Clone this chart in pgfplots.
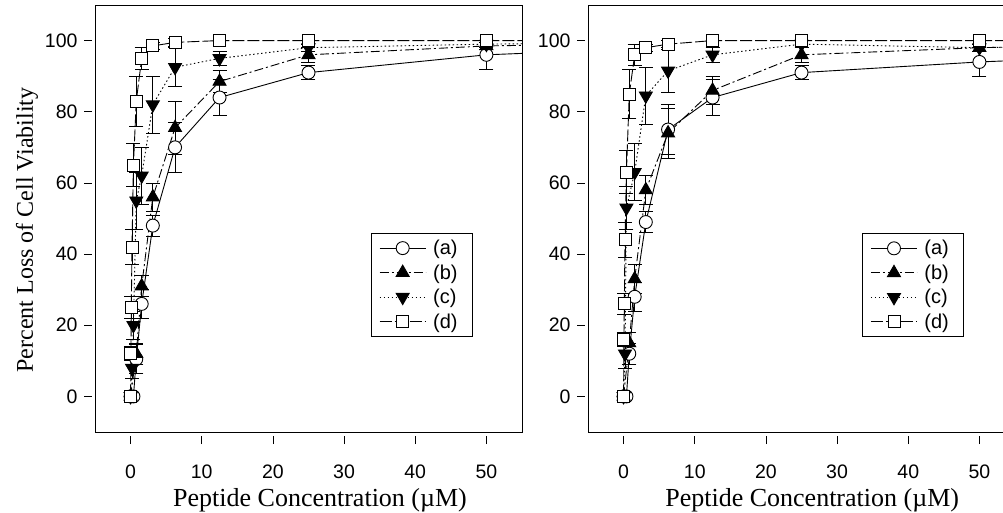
\documentclass[border=0pt]{standalone}
\usepackage{fontspec}
\setmainfont{Liberation Serif}
\newfontfamily\arialfont{Liberation Sans}
\usepackage{pgfplots}
\usepackage{pgfplotstable}
\pgfplotsset{compat=1.18}

% Left panel data
\pgfplotstableread{
x y e
0 0 0
0.4 0 0
0.8 10.5 4
1.56 26 4
3.125 48 3
6.25 70 7
12.5 84 5
25 91 2
50 96 4
100 100 0
}\La
\pgfplotstableread{
x y e
0 0 0
0.8 12 3
1.56 31 3
3.125 56 4
6.25 75.5 7.5
12.5 88.5 3
25 96 2
50 98.5 1
100 100 0
}\Lb
\pgfplotstableread{
x y e
0 0 0
0.2 8 3
0.4 20 4
0.8 55 8
1.56 62 8
3.125 82 8
6.25 92.5 5.5
12.5 95 2
25 98 1
50 99 1
100 100 0
}\Lc
\pgfplotstableread{
x y e
0 0 0
0.05 12 2
0.1 25 3
0.2 42 5
0.4 65 6
0.8 83 7
1.56 95 3
3.125 98.5 1
6.25 99.5 1
12.5 100 0
25 100 0
50 100 0
100 100 0
}\Ld
% Right panel data
\pgfplotstableread{
x y e
0 0 0
0.4 0 0
0.8 12 3
1.56 28 4
3.125 49 3
6.25 75 7
12.5 84 5
25 91 2
50 94 4
100 98 0
}\Ra
\pgfplotstableread{
x y e
0 0 0
0.8 15 3
1.56 33 4
3.125 58 4
6.25 74 7
12.5 86 4
25 96 2
50 98 1
100 100 0
}\Rb
\pgfplotstableread{
x y e
0 0 0
0.2 12 4
0.4 53 6
1.56 63 8
3.125 84.5 8
6.25 91.5 6
12.5 96 2
25 99 1
50 98 1
100 100 0
}\Rc
\pgfplotstableread{
x y e
0 0 0
0.05 16 2
0.1 26 3
0.2 44 5
0.4 63 6
0.8 85 7
1.56 96 3
3.125 98 1
6.25 99 1
12.5 100 0
25 100 0
50 100 0
100 100 0
}\Rd

\pgfplotsset{
  panel/.style={
    scale only axis, width=427pt, height=427pt,
    xmin=-5, xmax=55, ymin=-10, ymax=110,
    xtick={0,10,...,50}, ytick={0,20,...,100},
    xtick pos=bottom, ytick pos=left,
    tick align=outside, major tick length=8pt,
    xtick style={yshift=-4pt, black, line width=0.8pt},
    ytick style={xshift=-3pt, black, line width=0.8pt},
    axis line style={line width=0.8pt},
    tick label style={font=\fontsize{19.5}{19.5}\arialfont},
    /pgf/number format/assume math mode=true,
    xticklabel style={yshift=-21pt},
    yticklabel style={xshift=-6pt},
    xlabel={Peptide Concentration (\textmu M)},
    xlabel style={font=\fontsize{26}{26}\selectfont, at={(ticklabel cs:0.527)}, yshift=-3pt},
    legend style={font=\fontsize{20}{20}\arialfont, draw=black, line width=0.8pt,
      anchor=south west, inner xsep=8pt, inner ysep=5pt, row sep=4.5pt, cells={anchor=west},
      nodes={inner xsep=7pt}, legend cell align=left},
    legend image code/.code={\draw[mark repeat=2,mark phase=2,#1] plot coordinates {(0pt,0pt) (23pt,0pt) (46pt,0pt)};},
    error bars/error bar style={solid, line width=0.8pt},
    error bars/error mark options={rotate=90, mark size=7pt, line width=0.8pt, solid},
  },
  sa/.style={black, line width=0.9pt, solid, mark=*, mark size=6.5pt, mark options={fill=white, solid}},
  sb/.style={black, line width=0.9pt, dash pattern=on 9pt off 3pt on 2pt off 3pt, mark=triangle*, mark size=7.5pt, mark options={fill=black, solid}},
  sc/.style={black, line width=0.9pt, dash pattern=on 1.5pt off 2.5pt, mark=triangle*, mark size=7.5pt, mark options={fill=black, solid, rotate=180}},
  sd/.style={black, line width=0.9pt, dash pattern=on 12pt off 3pt, mark=square*, mark size=6pt, mark options={fill=white, solid}},
}

\begin{document}
\begin{tikzpicture}
\begin{axis}[panel, at={(95pt,80pt)}, anchor=south west,
  ylabel={Percent Loss of Cell Viability},
  ylabel style={font=\fontsize{24}{24}\selectfont, at={(ticklabel cs:0.473)}},
  legend style={at={(rel axis cs:0.646,0.2225)}}]
\addplot[sa, error bars/.cd, y dir=both, y explicit] table[x=x, y=y, y error=e] {\La};
\addlegendentry{(a)}
\addplot[sb, error bars/.cd, y dir=both, y explicit] table[x=x, y=y, y error=e] {\Lb};
\addlegendentry{(b)}
\addplot[sc, error bars/.cd, y dir=both, y explicit] table[x=x, y=y, y error=e] {\Lc};
\addlegendentry{(c)}
\addplot[sd, error bars/.cd, y dir=both, y explicit] table[x=x, y=y, y error=e] {\Ld};
\addlegendentry{(d)}
\end{axis}
\begin{axis}[panel, at={(588pt,80pt)}, anchor=south west,
  xlabel style={at={(ticklabel cs:0.525)}},
  legend style={at={(rel axis cs:0.642,0.222)}}]
\addplot[sa, error bars/.cd, y dir=both, y explicit] table[x=x, y=y, y error=e] {\Ra};
\addlegendentry{(a)}
\addplot[sb, error bars/.cd, y dir=both, y explicit] table[x=x, y=y, y error=e] {\Rb};
\addlegendentry{(b)}
\addplot[sc, error bars/.cd, y dir=both, y explicit] table[x=x, y=y, y error=e] {\Rc};
\addlegendentry{(c)}
\addplot[sd, error bars/.cd, y dir=both, y explicit] table[x=x, y=y, y error=e] {\Rd};
\addlegendentry{(d)}
\end{axis}
\pgfresetboundingbox
\useasboundingbox (0,0) rectangle (1003pt,512pt);
\end{tikzpicture}
\end{document}
